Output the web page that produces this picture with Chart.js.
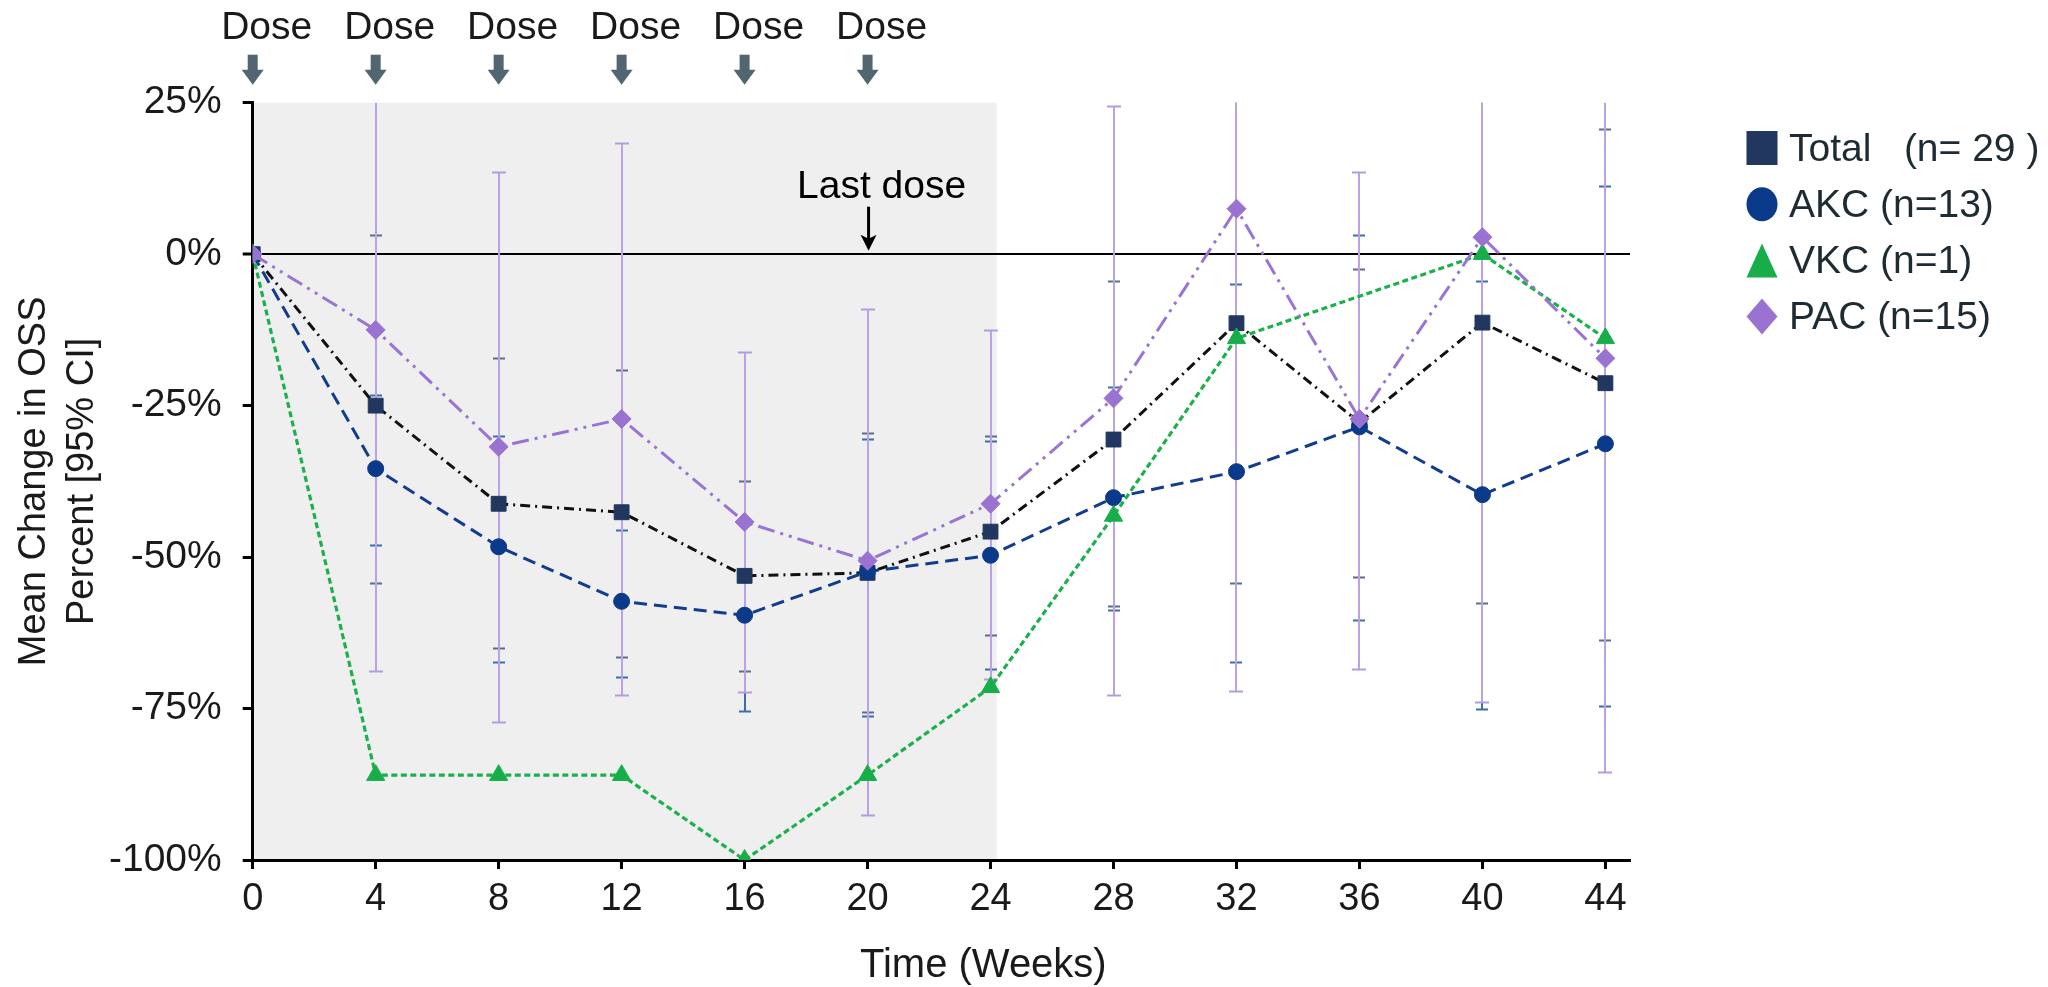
<!DOCTYPE html>
<html><head><meta charset="utf-8">
<script src="https://cdn.jsdelivr.net/npm/chart.js@4.4.1/dist/chart.umd.min.js"></script>
<style>html,body{margin:0;padding:0;background:#fff;} canvas{display:block;}</style>
</head><body>
<canvas id="c" width="2048" height="987"></canvas>
<script>
// ---------- data ----------
const weeks = [0, 4, 8, 12, 16, 20, 24, 28, 32, 36, 40, 44];
const xTicks = [0, 4, 8, 12, 16, 20, 24, 28, 32, 36, 40, 44];
const yTicks = [25, 0, -25, -50, -75, -100];
const doseWeeks = [0, 4, 8, 12, 16, 20];
const lastDoseWeek = 20;
const shadedWeeks = [0, 24.2];
const seriesLabels = ['Total   (n= 29 )', 'AKC (n=13)', 'VKC (n=1)', 'PAC (n=15)'];

const totalMean = [0, -25.0, -41.2, -42.6, -53.1, -52.6, -45.8, -30.6, -11.4, -27.8, -11.3, -21.3];
const akcMean   = [0, -35.4, -48.3, -57.3, -59.6, -52.4, -49.7, -40.2, -35.9, -28.5, -39.7, -31.3];
const vkcMean   = [0, -86.0, -86.0, -86.0, -100.0, -86.0, -71.5, -43.2, -13.9, null, 0, -13.9];
const pacMean   = [0, -12.5, -31.8, -27.2, -44.2, -50.6, -41.2, -23.8, 7.5, -27.2, 2.8, -17.2];

const totalUpper = [null, 3.2, -17.2, -19.2, -37.5, -29.5, -30.0, -4.4, 31.4, -2.5, 34.9, 20.7];
const totalLower = [null, -54.2, -65.0, -66.5, -68.8, -75.5, -62.8, -58.0, -54.2, -53.3, -57.5, -63.7];
const akcUpper   = [null, -23.3, -30.0, -45.6, -43.8, -30.5, -30.9, -22.0, -5.0, 3.2, -4.4, 11.3];
const akcLower   = [null, -48.0, -67.4, -69.8, -75.4, -76.3, -68.4, -58.8, -67.4, -60.4, -75.0, -74.6];
const pacUpper   = [null, 43.8, 13.6, 18.4, -16.2, -9.1, -12.5, 24.5, 87.0, 13.6, 79.6, 51.0];
const pacLower   = [null, -68.8, -77.3, -72.7, -72.2, -92.5, -70.2, -72.7, -72.1, -68.4, -74.0, -85.4];

// ---------- styles ----------
const FONT = "'Liberation Sans', Arial, Helvetica, sans-serif";
const TEXT = '#1a1a1a';
const COLORS = { total: '#22375f', akc: '#0c3a8a', vkc: '#17ae4a', pac: '#9a72d2' };

const pts = arr => weeks.map((w, i) => ({ x: w, y: arr[i] }));

const errorBars = [
  { upper: totalUpper, lower: totalLower, line: '#5d6d8c', cap: '#5d6d8c', half: 6 },
  { upper: akcUpper, lower: akcLower, line: '#3a6eb0', cap: '#3a6eb0', half: 6 },
  { upper: pacUpper, lower: pacLower, line: '#b9a2e6', cap: '#b39be2', half: 7 }
];

const annot = {
  id: 'annot',
  beforeDraw(chart) {
    const { ctx, chartArea: a, scales: { x } } = chart;
    const x0 = x.getPixelForValue(shadedWeeks[0]);
    const x1 = x.getPixelForValue(shadedWeeks[1]);
    ctx.save();
    ctx.fillStyle = '#efefef';
    ctx.fillRect(x0, a.top, x1 - x0, a.bottom - a.top);
    ctx.restore();
  },
  beforeDatasetsDraw(chart) {
    const { ctx, chartArea: a, scales: { x, y } } = chart;
    ctx.save();
    ctx.beginPath();
    ctx.rect(a.left - 30, a.top, a.right - a.left + 60, a.bottom - a.top + 30);
    ctx.clip();
    errorBars.forEach(eb => {
      weeks.forEach((w, i) => {
        if (eb.upper[i] == null) return;
        const px = Math.round(x.getPixelForValue(w));
        const pu = Math.round(y.getPixelForValue(eb.upper[i])) + 0.5;
        const pl = Math.round(y.getPixelForValue(eb.lower[i])) + 0.5;
        ctx.strokeStyle = eb.line;
        ctx.lineWidth = 2;
        ctx.beginPath();
        ctx.moveTo(px, pu); ctx.lineTo(px, pl);
        ctx.stroke();
        ctx.strokeStyle = eb.cap;
        ctx.beginPath();
        ctx.moveTo(px - eb.half, pu); ctx.lineTo(px + eb.half, pu);
        ctx.moveTo(px - eb.half, pl); ctx.lineTo(px + eb.half, pl);
        ctx.stroke();
      });
    });
    ctx.restore();
  },
  afterDraw(chart) {
    const { ctx, chartArea: a, scales: { x } } = chart;
    ctx.save();
    // Dose labels + arrows
    ctx.font = `39px ${FONT}`;
    ctx.textAlign = 'center';
    ctx.textBaseline = 'alphabetic';
    doseWeeks.forEach(w => {
      const px = x.getPixelForValue(w);
      ctx.fillStyle = TEXT;
      ctx.fillText('Dose', px + 14, a.top - 64);
      ctx.fillStyle = '#526670';
      ctx.fillRect(px - 5, a.top - 48, 10, 16);
      ctx.beginPath();
      ctx.moveTo(px - 11, a.top - 33);
      ctx.lineTo(px + 11, a.top - 33);
      ctx.lineTo(px, a.top - 18);
      ctx.closePath();
      ctx.fill();
    });
    // Last dose
    const lx = x.getPixelForValue(lastDoseWeek);
    ctx.fillStyle = '#000';
    ctx.fillText('Last dose', lx + 14, a.top + 95);
    ctx.strokeStyle = '#000';
    ctx.lineWidth = 3;
    ctx.beginPath();
    ctx.moveTo(lx + 1, a.top + 104);
    ctx.lineTo(lx + 1, a.top + 138);
    ctx.stroke();
    ctx.beginPath();
    ctx.moveTo(lx - 7, a.top + 132);
    ctx.lineTo(lx + 1, a.top + 136);
    ctx.lineTo(lx + 9, a.top + 132);
    ctx.lineTo(lx + 1, a.top + 148);
    ctx.closePath();
    ctx.fill();
    // x-axis title
    ctx.fillStyle = TEXT;
    ctx.font = `40px ${FONT}`;
    ctx.fillText('Time (Weeks)', (a.left + a.right) / 2 + 42, a.bottom + 117);
    // Legend
    const lgX = 1762, lgY = 148, step = 56.2, w = 15.5, h = 17;
    const cols = [COLORS.total, COLORS.akc, COLORS.vkc, COLORS.pac];
    ctx.font = `39px ${FONT}`;
    ctx.textAlign = 'left';
    ctx.textBaseline = 'middle';
    seriesLabels.forEach((lab, i) => {
      const cy = lgY + i * step;
      ctx.fillStyle = cols[i];
      ctx.beginPath();
      if (i === 0) ctx.rect(lgX - w, cy - h, 2 * w, 2 * h);
      else if (i === 1) ctx.ellipse(lgX, cy, w, h, 0, 0, Math.PI * 2);
      else if (i === 2) { ctx.moveTo(lgX, cy - h); ctx.lineTo(lgX + w, cy + h); ctx.lineTo(lgX - w, cy + h); ctx.closePath(); }
      else { ctx.moveTo(lgX, cy - h - 1); ctx.lineTo(lgX + w, cy); ctx.lineTo(lgX, cy + h + 1); ctx.lineTo(lgX - w, cy); ctx.closePath(); }
      ctx.fill();
      ctx.fillStyle = '#1e2b33';
      ctx.fillText(lab, 1789, cy + 2);
    });
    ctx.restore();
  }
};

Chart.defaults.font.family = FONT;

new Chart(document.getElementById('c'), {
  type: 'line',
  data: {
    datasets: [
      { label: seriesLabels[0], data: pts(totalMean), borderColor: '#111', borderWidth: 3, borderDash: [10, 5, 2, 5],
        pointStyle: 'rect', pointRadius: 10.5, pointBackgroundColor: COLORS.total, pointBorderColor: COLORS.total, pointBorderWidth: 1, order: 3 },
      { label: seriesLabels[1], data: pts(akcMean), borderColor: '#123c8e', borderWidth: 3, borderDash: [13, 7],
        pointStyle: 'circle', pointRadius: 8, pointBackgroundColor: COLORS.akc, pointBorderColor: COLORS.akc, pointBorderWidth: 1, order: 2 },
      { label: seriesLabels[2], data: pts(vkcMean), borderColor: '#1ab04c', borderWidth: 3.2, borderDash: [6, 3.5], spanGaps: true,
        pointStyle: 'triangle', pointRadius: 10.5, pointBackgroundColor: COLORS.vkc, pointBorderColor: COLORS.vkc, pointBorderWidth: 1, order: 1 },
      { label: seriesLabels[3], data: pts(pacMean), borderColor: '#9a74d4', borderWidth: 3, borderDash: [17, 6, 3, 6, 3, 6],
        pointStyle: 'rectRot', pointRadius: 9.5, pointBackgroundColor: COLORS.pac, pointBorderColor: COLORS.pac, pointBorderWidth: 1, order: 0 }
    ]
  },
  options: {
    responsive: false,
    animation: false,
    events: [],
    devicePixelRatio: 1,
    layout: { padding: { top: 102.7, right: 418, left: 0, bottom: 0 } },
    elements: { line: { tension: 0, fill: false } },
    plugins: { legend: { display: false }, tooltip: { enabled: false } },
    scales: {
      x: {
        type: 'linear', min: 0, max: 44.8,
        afterBuildTicks: s => { s.ticks = xTicks.map(v => ({ value: v })); },
        afterFit: s => { s.height = 127; },
        border: { color: '#000', width: 3 },
        grid: { drawOnChartArea: false, drawTicks: true, tickLength: 9, tickColor: '#000', tickWidth: 3 },
        ticks: { font: { size: 38 }, color: TEXT, padding: 8, maxRotation: 0, autoSkip: false }
      },
      y: {
        type: 'linear', min: -100, max: 25,
        afterBuildTicks: s => { s.ticks = yTicks.map(v => ({ value: v })); },
        afterFit: s => { s.width = 252.7; },
        border: { color: '#000', width: 3 },
        grid: {
          color: c => (c.tick && c.tick.value === 0) ? '#000' : 'rgba(0,0,0,0)',
          lineWidth: c => (c.tick && c.tick.value === 0) ? 2 : 1,
          drawTicks: true, tickLength: 10, tickColor: '#000', tickWidth: 3
        },
        ticks: { callback: v => v + '%', font: { size: 39 }, color: TEXT, padding: 21, autoSkip: false },
        title: { display: true, text: ['Mean Change in OSS', 'Percent [95% CI]'], font: { size: 38, lineHeight: 1.26 }, color: TEXT, padding: { top: 11, bottom: 0 } }
      }
    }
  },
  plugins: [annot]
});
</script>
</body></html>
